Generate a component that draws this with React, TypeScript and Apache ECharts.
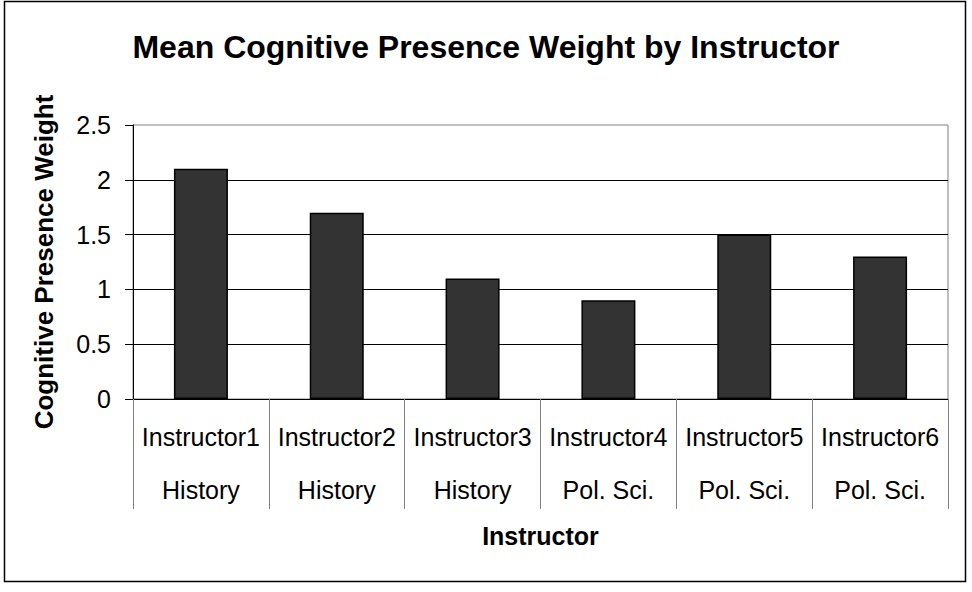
import React, { useEffect, useRef } from "react";
import * as echarts from "echarts";

const instructors = ["Instructor1", "Instructor2", "Instructor3", "Instructor4", "Instructor5", "Instructor6"];
const departments = ["History", "History", "History", "Pol. Sci.", "Pol. Sci.", "Pol. Sci."];
const weights = [2.1, 1.7, 1.1, 0.9, 1.5, 1.3];
const yTicks = [0, 0.5, 1, 1.5, 2, 2.5];

const FONT = "'Liberation Sans', Arial, sans-serif";

export default function App() {
  const ref = useRef<HTMLDivElement>(null);
  useEffect(() => {
    if (!ref.current) return;
    const chart = echarts.init(ref.current, undefined, { renderer: "svg" });
    const categories = instructors.map((n, i) => n + "\n" + departments[i]);
    chart.setOption({
      animation: false,
      backgroundColor: "#ffffff",
      textStyle: { fontFamily: FONT },
      title: {
        text: "Mean Cognitive Presence Weight by Instructor",
        left: "center",
        top: 26,
        textStyle: { fontFamily: FONT, fontSize: 32, fontWeight: "bold", color: "#000" },
      },
      graphic: [
        {
          type: "rect",
          shape: { x: 4.5, y: 1.5, width: 961, height: 580 },
          style: { fill: "none", stroke: "#000", lineWidth: 1.5 },
          silent: true,
        },
      ],
      grid: {
        left: 133,
        right: 24,
        top: 125,
        bottom: 193,
        show: true,
        borderColor: "#808080",
        borderWidth: 1,
        backgroundColor: "transparent",
      },
      xAxis: {
        type: "category",
        data: categories,
        name: "Instructor",
        nameLocation: "middle",
        nameGap: 124,
        nameTextStyle: { fontFamily: FONT, fontSize: 25, fontWeight: "bold", color: "#000" },
        axisLine: { show: true, lineStyle: { color: "#000", width: 1 } },
        axisTick: { show: true, interval: 0, length: 110, alignWithLabel: false, lineStyle: { color: "#808080", width: 1 } },
        axisLabel: {
          interval: 0,
          margin: 11,
          lineHeight: 53,
          fontFamily: FONT,
          fontSize: 25,
          color: "#000",
        },
      },
      yAxis: {
        type: "value",
        min: 0,
        max: 2.5,
        interval: 0.5,
        name: "Cognitive Presence Weight",
        nameLocation: "middle",
        nameGap: 76,
        nameTextStyle: { fontFamily: FONT, fontSize: 26, fontWeight: "bold", color: "#000" },
        axisLine: { show: true, lineStyle: { color: "#000", width: 1 } },
        axisTick: { show: true, length: 8, lineStyle: { color: "#000", width: 1 } },
        axisLabel: {
          margin: 22,
          fontFamily: FONT,
          fontSize: 25,
          color: "#000",
          formatter: (v: number) => (yTicks.includes(v) ? String(v) : ""),
        },
        splitLine: { show: true, showMaxLine: false, lineStyle: { color: "#000", width: 1 } },
      },
      series: [
        {
          type: "bar",
          data: weights,
          barWidth: 54,
          itemStyle: { color: "#333333", borderColor: "#000", borderWidth: 1.5 },
        },
      ],
    });
    return () => chart.dispose();
  }, []);
  return <div ref={ref} style={{ position: "fixed", left: 0, top: 0, width: 972, height: 592 }} />;
}
